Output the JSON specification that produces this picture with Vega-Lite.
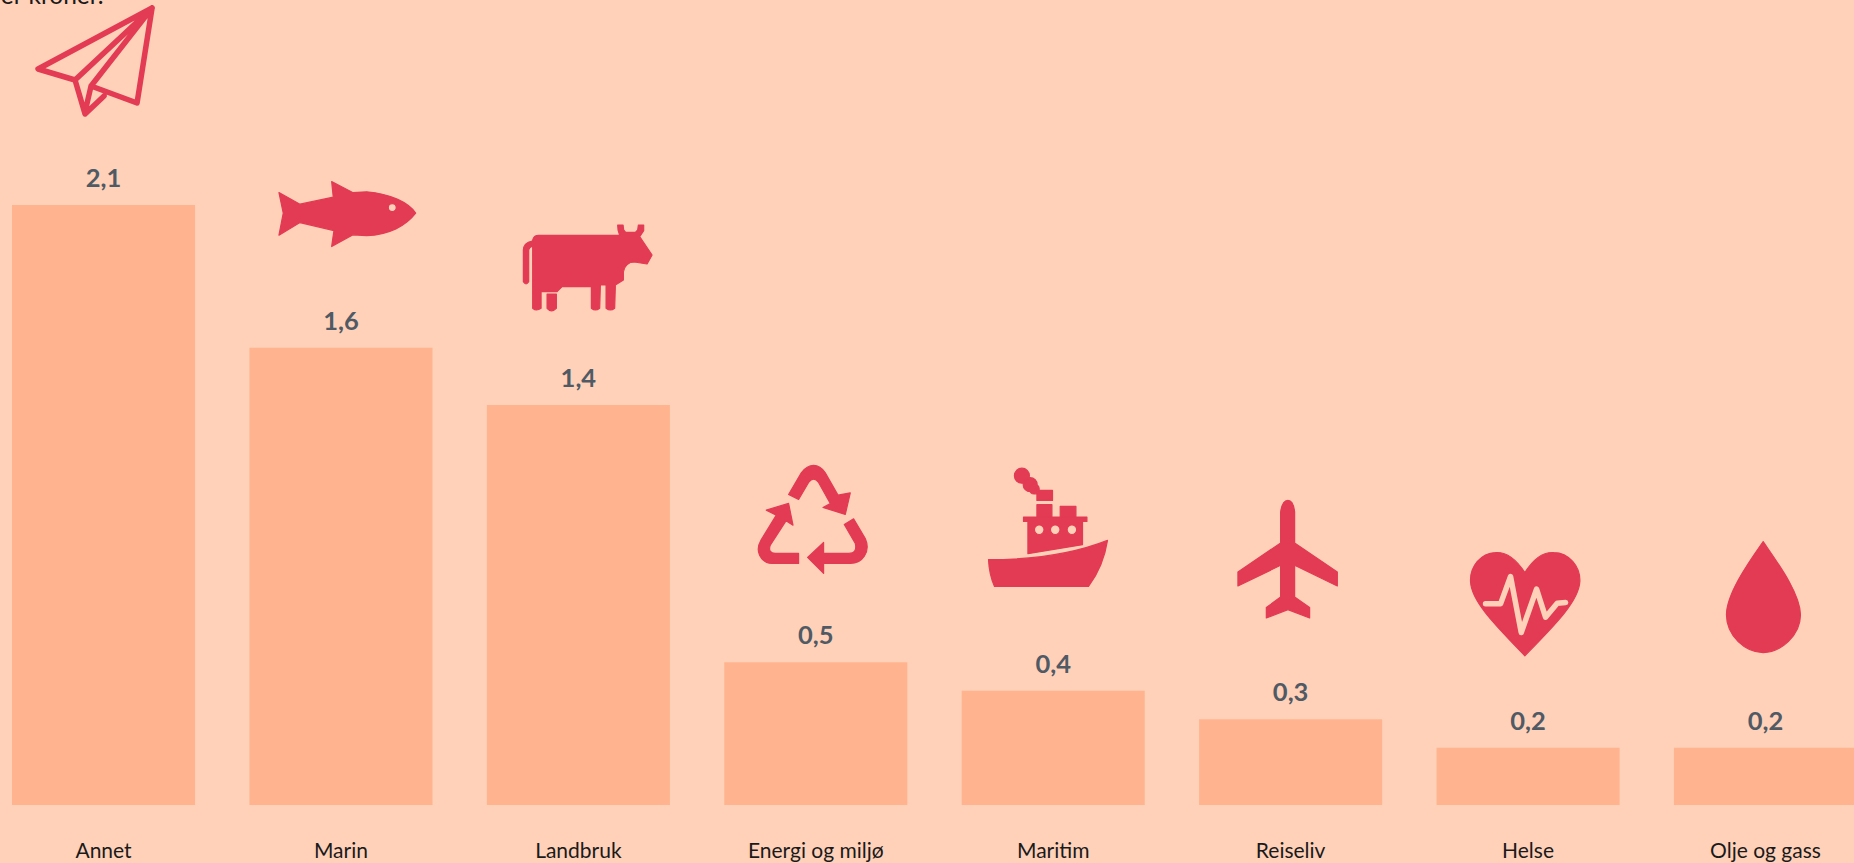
{
"$schema":"https://vega.github.io/schema/vega-lite/v6.json",
"width":1854,"height":805,
"autosize":{"type":"none"},
"padding":{"left":0,"top":0,"right":0,"bottom":58},
"background":"#FFD1B9",
"config":{"view":{"stroke":null}},
"data":{"values":[
{"bransje":"Annet","verdi":2.1,"etikett":"2,1"},
{"bransje":"Marin","verdi":1.6,"etikett":"1,6"},
{"bransje":"Landbruk","verdi":1.4,"etikett":"1,4"},
{"bransje":"Energi og miljø","verdi":0.5,"etikett":"0,5"},
{"bransje":"Maritim","verdi":0.4,"etikett":"0,4"},
{"bransje":"Reiseliv","verdi":0.3,"etikett":"0,3"},
{"bransje":"Helse","verdi":0.2,"etikett":"0,2"},
{"bransje":"Olje og gass","verdi":0.2,"etikett":"0,2"}
]},
"encoding":{
"x":{"field":"bransje","type":"nominal","sort":null,"scale":{"range":[0,1869],"paddingInner":0.229,"paddingOuter":0.0506},"axis":{"title":null,"domain":false,"ticks":false,"labelAngle":0,"labelFont":"Lato","labelFontSize":21,"labelColor":"#1a1a1a","labelPadding":46,"labelBaseline":"middle"}},
"y":{"field":"verdi","type":"quantitative","scale":{"domain":[0,2.8175],"nice":false},"axis":null}
},
"layer":[
{"mark":{"type":"bar","color":"#FFB48F"}},
{"mark":{"type":"text","font":"Lato","fontSize":25.5,"fontWeight":"bold","color":"#4F5A65","baseline":"alphabetic","dy":-18},"encoding":{"text":{"field":"etikett"}}},
{"data":{"values":[{"bransje":"Annet","verdi":2.803,"tekst":"er kroner."}]},
 "mark":{"type":"text","font":"Lato","fontSize":24.5,"color":"#1a1a1a","baseline":"alphabetic","align":"right"},
 "encoding":{"text":{"field":"tekst"}}},
{"transform":[{"filter":"datum.bransje !== 'Annet'"}],
 "mark":{"type":"point","filled":true,"size":4,"opacity":1,"color":"#E23B53","stroke":"#E23B53","strokeWidth":1.2,"strokeJoin":"round"},
 "encoding":{"shape":{"field":"bransje","type":"nominal","legend":null,"scale":{
  "domain":["Marin","Landbruk","Energi og miljø","Maritim","Reiseliv","Helse","Olje og gass"],
  "range":[
"M-62,-155.3L-41,-143.7L-7.7,-150.7L-9.3,-166.3L11.7,-155.3L25.7,-156C50,-154 68,-145 74.7,-134.7C65,-122 48,-113 25.7,-112.3L11.7,-113L-9.3,-101.3L-7,-117.3L-41,-125.3L-62,-112.7L-57.7,-134.7ZM47.3,-140.3A4,4 0 1 0 55.3,-140.3A4,4 0 1 0 47.3,-140.3Z",
"M-45.7,-165Q-44.7,-169.7 -39.7,-169.7L41.3,-169.7L39.7,-175L39.3,-180L44.7,-180L45.3,-175L47.3,-172.7L57,-172.7L59.3,-175L60,-180L65.3,-180L65.3,-174.3L61.3,-168.3L73.7,-150L68.7,-141L56,-143Q47,-143 45,-133L45,-125L37,-120L36.3,-96.7Q32,-93.3 27.7,-96.7L27.7,-120L22,-120L21.3,-96.7Q17,-93.3 13,-96.7L13,-118.3L-16.3,-118.3L-21.3,-113.3L-37.3,-113.3L-37.3,-96.7Q-42,-93.3 -45.7,-96.7ZM-46.3,-164Q-54.7,-162.3 -55,-155L-55,-123.3Q-52.3,-119 -49.7,-123.3L-49.7,-155Q-49.3,-157.7 -45.7,-159ZM-31.3,-111L-22,-111L-22,-96.7Q-27,-91.7 -31.3,-96.7Z",
"M-27.2,-167.7L-14.5,-189.3Q-8.8,-196.7 -2.2,-196.7Q4.5,-196.7 9.5,-189.3L22.2,-167L34.5,-169.3L29.5,-147.7L7.2,-154.7L14.5,-158.7L2.8,-179.7Q-2.2,-186.3 -7.2,-179.7L-17.2,-162.7ZM-49.5,-152L-27.2,-158.7L-22.8,-137L-29.8,-141.3L-45.5,-117Q-48.2,-109.3 -40.5,-108.7L-17.2,-108.7L-17.2,-98.7L-43.8,-98.7Q-52.2,-98.7 -56.2,-107Q-59.5,-113.7 -54.8,-122L-39.5,-147ZM37.8,-143.3L49.5,-123.7Q53.8,-113.7 48.5,-106Q43.8,-98.7 34.5,-98.7L7.8,-98.7L7.8,-88.7L-8.2,-104.7L7.8,-119.7L7.8,-108.7L32.8,-108.7Q41.8,-108.7 39.5,-118.7L28.5,-137.7Z",
"M-64.7,-131Q5.3,-131 54.3,-150.3Q50.3,-124.3 35.3,-104.3L-58.7,-104.3Q-64,-116 -64.7,-131ZM-29.7,-173.7L33.7,-173.7L33.7,-169.3L29.3,-169.3L29.3,-146L-25.3,-137L-25.3,-169.3L-29.7,-169.3ZM-18.8,-161A4.8,4.8 0 1 0 -9.2,-161A4.8,4.8 0 1 0 -18.8,-161ZM-2.8,-161A4.8,4.8 0 1 0 6.8,-161A4.8,4.8 0 1 0 -2.8,-161ZM13.9,-161A4.8,4.8 0 1 0 23.5,-161A4.8,4.8 0 1 0 13.9,-161ZM-16.3,-186L-1.3,-186L-1.3,-173.7L-16.3,-173.7ZM7,-184.3L22.7,-184.3L22.7,-173.7L7,-173.7ZM-16.3,-200.3L-0.7,-200.3L-0.7,-190.3L-16.3,-190.3ZM-38.8,-215A7.5,7.5 0 1 1 -23.8,-215A7.5,7.5 0 1 1 -38.8,-215ZM-30,-206A7,7 0 1 1 -16,-206A7,7 0 1 1 -30,-206ZM-24,-201.7A5,5 0 1 1 -14,-201.7A5,5 0 1 1 -24,-201.7Z",
"M-10,-207.3Q-8.3,-219 -2.7,-219Q2.7,-219 4,-207.3L4,-176.3L46.7,-147.3L46.7,-133.3L4,-154L4,-122.3L19,-111.7L19,-101.3L-2.7,-109.7L-24.3,-101.3L-24.3,-111.7L-10,-122.3L-10,-154L-52.7,-133.3L-52.7,-147.3L-10,-176.3Z",
"M-3.2,-175.3C-12.5,-189.7 -22.5,-196 -32.5,-195.3C-47.5,-194.7 -58.2,-181.3 -57.5,-166.3C-56.8,-146.3 -32,-122 -3.2,-92C26,-122 50.8,-146.3 51.8,-166.3C52.5,-181.3 40.8,-195.3 25.8,-195.3C15.8,-196 5.8,-189.7 -3.2,-175.3Z",
"M-2.3,-206.3C10,-188 35,-155 35,-133C35,-112 15,-95.3 -2.3,-95.3C-20,-95.3 -39,-112 -39,-133C-39,-155 -15,-188 -2.3,-206.3Z"
  ]}}}},
{"transform":[{"filter":"datum.bransje === 'Annet'"}],
 "mark":{"type":"point","filled":false,"fill":null,"size":4,"opacity":1,"stroke":"#E23B53","strokeWidth":5.5,"strokeJoin":"round","strokeCap":"round",
 "shape":"M48.5,-197L-65.5,-136L-28.5,-125L-18.5,-91L0.5,-109M48.5,-197L33.5,-102L-12.5,-119L48.5,-197M-28.5,-125L48.5,-197M-12.5,-119L-18.5,-93"}},
{"transform":[{"filter":"datum.bransje === 'Helse'"}],
 "mark":{"type":"point","filled":false,"fill":null,"size":4,"opacity":1,"stroke":"#FFD1B9","strokeWidth":5.5,"strokeJoin":"round","strokeCap":"round",
 "shape":"M-42.5,-144L-27.5,-144L-17.5,-171.3L-6.8,-115.3L8.5,-158.7L17.5,-130.7L29.2,-144.7L37.5,-145.3"}}
]
}
